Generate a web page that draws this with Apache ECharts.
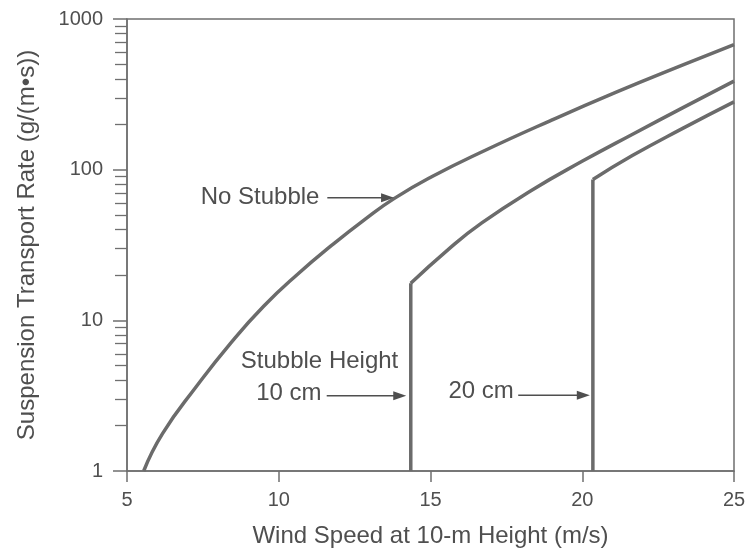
<!DOCTYPE html>
<html>
<head>
<meta charset="utf-8">
<title>Suspension Transport Rate vs Wind Speed</title>
<script src="https://cdn.jsdelivr.net/npm/echarts@6/dist/echarts.min.js"></script>
<style>
  html, body { margin: 0; padding: 0; background: #ffffff; }
  #chart { width: 749px; height: 553px; }
</style>
</head>
<body>
<div id="chart"></div>
<script>
// Wind speed (m/s) and suspension transport rate (g/(m·s)) along each curve
const noStubbleX = [5.55, 6.17, 7.31, 8.41, 9.51, 10.64, 11.74, 12.84, 13.81, 15.07, 16.72, 18.94, 21.12, 23.34, 25];
const noStubbleY = [1, 1.77, 3.69, 7.04, 12.45, 20.4, 31.4, 46.8, 64.5, 90.4, 132, 211, 327, 498, 676];

// 10 cm stubble: transport starts abruptly at the threshold speed (first point)
const stubble10X = [14.35, 15.59, 16.69, 18.35, 20.01, 21.66, 23.32, 25];
const stubble10Y = [17.6, 29.6, 44.3, 73.3, 114, 172, 258, 387];

// 20 cm stubble
const stubble20X = [20.35, 21.65, 23.31, 25];
const stubble20Y = [86, 124, 188, 282];

// Axis ticks
const xTicks = [5, 10, 15, 20, 25];
const yMajorTicks = [1, 10, 100, 1000];
const yMinorTicks = [2, 3, 4, 5, 6, 7, 8, 9, 20, 30, 40, 50, 60, 70, 80, 90, 200, 300, 400, 500, 600, 700, 800, 900];

// Text annotations: [text, x, y, align]
const labelNoStubble = ['No Stubble', 11.34, 65, 'right'];
const labelHeading = ['Stubble Height', 8.75, 5.33, 'left'];
const label10 = ['10 cm', 11.41, 3.3, 'right'];
const label20 = ['20 cm', 15.59, 3.38, 'left'];

// Arrows: [fromX, toX, y]
const arrowNoStubble = [11.6, 13.8, 65];
const arrow10 = [11.58, 14.2, 3.16];
const arrow20 = [17.89, 20.25, 3.18];

const FONT = "'Liberation Sans', Arial, Helvetica, sans-serif";
const TEXT = '#4f4f4f';
const LINE = '#6b6b6b';
const AXIS = '#6f6f6f';

const zip = (xs, ys) => xs.map((x, i) => [x, ys[i]]);

const chart = echarts.init(document.getElementById('chart'), null, { renderer: 'canvas' });

const curveStyle = { color: LINE, width: 3.5 };
function curve(name, data) {
  return {
    name, type: 'line', data, smooth: 0.5, symbol: 'none',
    lineStyle: curveStyle, z: 5, animation: false
  };
}
function riser(name, x, top) {
  return {
    name, type: 'line', data: [[x, 1], [x, top]], symbol: 'none',
    lineStyle: curveStyle, z: 5, animation: false
  };
}

chart.setOption({
  animation: false,
  backgroundColor: '#ffffff',
  textStyle: { fontFamily: FONT },
  grid: {
    left: 127, top: 19, right: 15, bottom: 78,
    show: true, borderColor: AXIS, borderWidth: 1.5, backgroundColor: 'transparent'
  },
  xAxis: {
    type: 'value', min: 5, max: 25, interval: 5,
    name: 'Wind Speed at 10-m Height (m/s)',
    nameLocation: 'middle', nameGap: 53,
    nameTextStyle: { fontSize: 24, color: TEXT, fontFamily: FONT },
    axisLine: { show: true, lineStyle: { color: AXIS, width: 1.5 } },
    axisTick: { show: true, inside: false, length: 11, lineStyle: { color: AXIS, width: 1.5 }, customValues: xTicks },
    axisLabel: { fontSize: 20, color: TEXT, margin: 19, customValues: xTicks, fontFamily: FONT },
    splitLine: { show: false }
  },
  yAxis: [
    {
      type: 'log', logBase: 10, min: 1, max: 1000,
      name: 'Suspension Transport Rate (g/(m\u2022s))',
      nameLocation: 'middle', nameGap: 88,
      nameTextStyle: { fontSize: 24, color: TEXT, fontFamily: FONT },
      axisLine: { show: true, lineStyle: { color: AXIS, width: 1.5 } },
      axisTick: { show: true, inside: false, length: 14, lineStyle: { color: AXIS, width: 1.5 }, customValues: yMajorTicks },
      axisLabel: {
        fontSize: 20, color: TEXT, margin: 24, customValues: yMajorTicks, fontFamily: FONT,
        formatter: (v) => String(Math.round(v))
      },
      splitLine: { show: false }
    },
    {
      type: 'log', logBase: 10, min: 1, max: 1000, position: 'left', offset: 0,
      axisLine: { show: false },
      axisTick: { show: true, inside: false, length: 12, lineStyle: { color: AXIS, width: 1.3 }, customValues: yMinorTicks },
      axisLabel: { show: false },
      splitLine: { show: false }
    }
  ],
  series: [
    curve('No Stubble', zip(noStubbleX, noStubbleY)),
    riser('10 cm', stubble10X[0], stubble10Y[0]),
    curve('10 cm', zip(stubble10X, stubble10Y)),
    riser('20 cm', stubble20X[0], stubble20Y[0]),
    curve('20 cm', zip(stubble20X, stubble20Y))
  ]
});

// Annotation text and arrows placed in data coordinates
function px(x, y) {
  return chart.convertToPixel({ xAxisIndex: 0, yAxisIndex: 0 }, [x, y]);
}
function textEl(spec) {
  const p = px(spec[1], spec[2]);
  return {
    type: 'text', x: p[0], y: p[1], z: 10,
    style: { text: spec[0], fontSize: 24, fontFamily: FONT, fill: TEXT, align: spec[3], verticalAlign: 'middle' }
  };
}
function arrowEls(spec) {
  const a = px(spec[0], spec[2]);
  const b = px(spec[1], spec[2]);
  const head = 13, half = 4.5;
  return [
    { type: 'line', z: 10, shape: { x1: a[0], y1: a[1], x2: b[0] - head + 1, y2: b[1] }, style: { stroke: TEXT, lineWidth: 1.5 } },
    { type: 'polygon', z: 10, shape: { points: [[b[0], b[1]], [b[0] - head, b[1] - half], [b[0] - head, b[1] + half]] }, style: { fill: TEXT } }
  ];
}

chart.setOption({
  graphic: [
    textEl(labelNoStubble),
    textEl(labelHeading),
    textEl(label10),
    textEl(label20),
    ...arrowEls(arrowNoStubble),
    ...arrowEls(arrow10),
    ...arrowEls(arrow20)
  ]
});
</script>
</body>
</html>
